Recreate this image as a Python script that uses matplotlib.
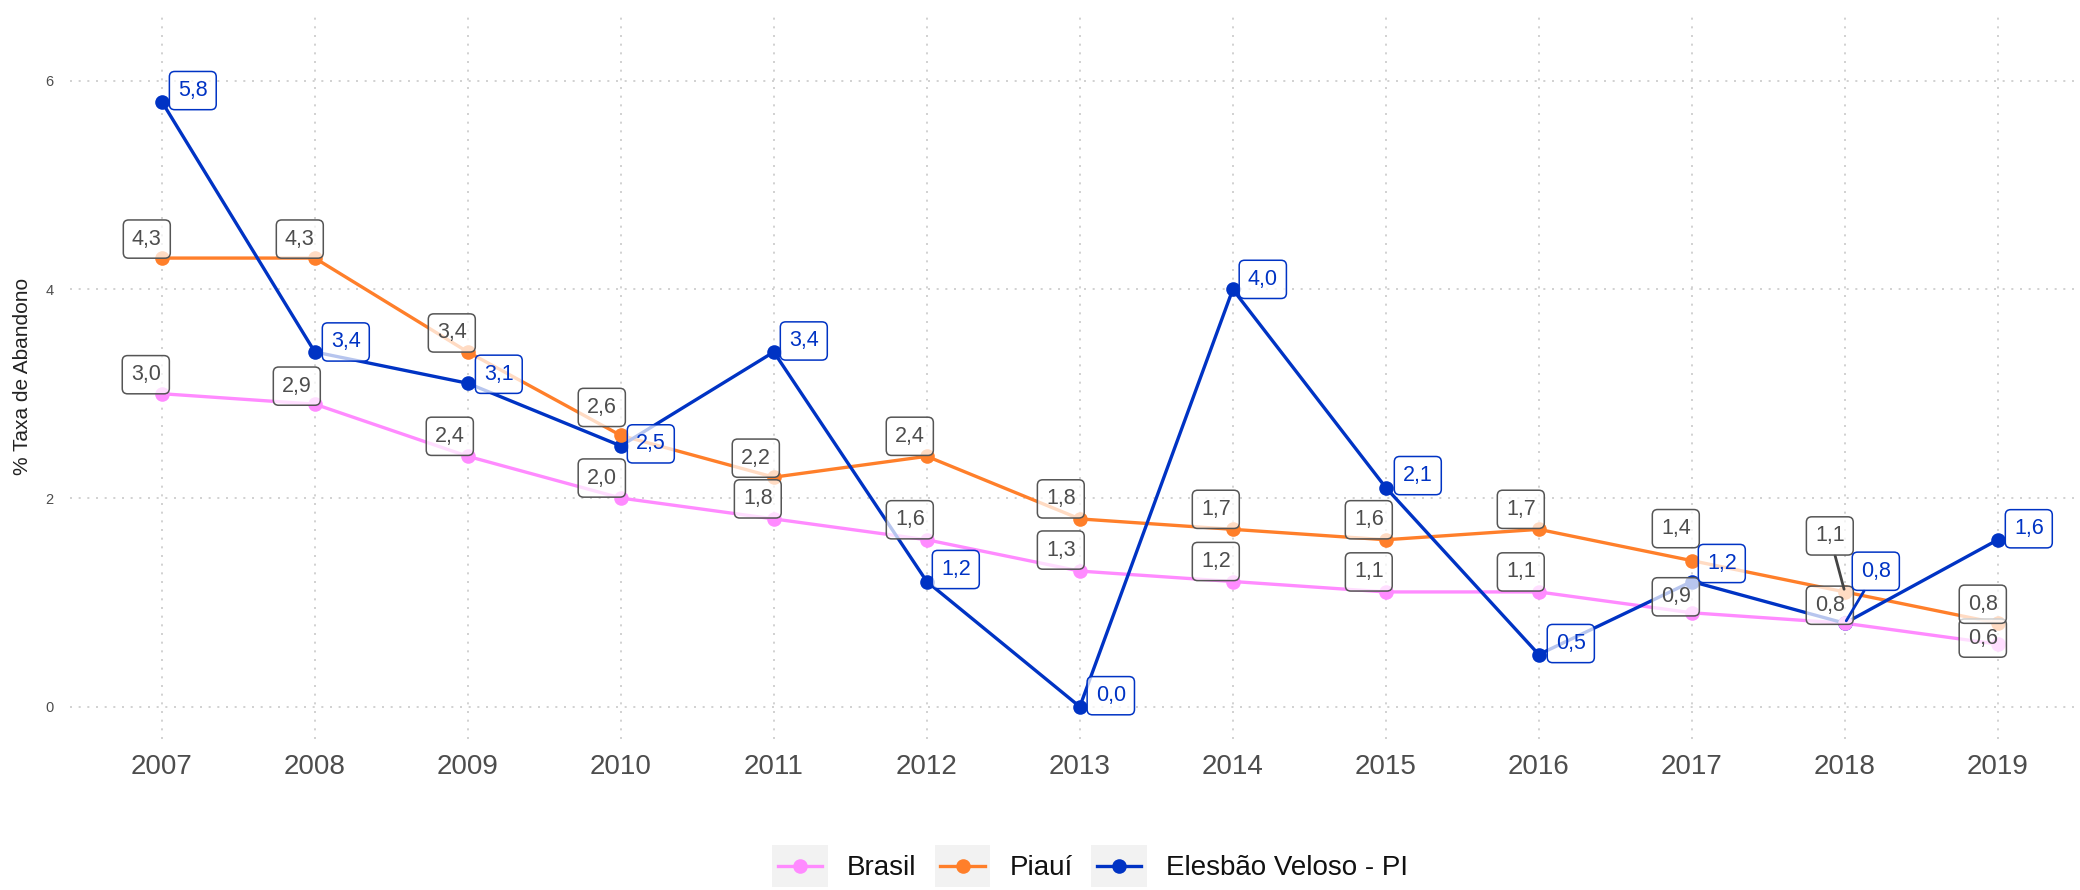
import matplotlib
matplotlib.use("Agg")
import matplotlib.pyplot as plt
from matplotlib.legend_handler import HandlerBase
from matplotlib.lines import Line2D
from matplotlib.patches import Rectangle

plt.rcParams["font.family"] = ["Liberation Sans", "DejaVu Sans"]

# ---- data -------------------------------------------------------------
anos = [2007, 2008, 2009, 2010, 2011, 2012, 2013, 2014, 2015, 2016, 2017, 2018, 2019]
brasil = [3.0, 2.9, 2.4, 2.0, 1.8, 1.6, 1.3, 1.2, 1.1, 1.1, 0.9, 0.8, 0.6]
piaui = [4.3, 4.3, 3.4, 2.6, 2.2, 2.4, 1.8, 1.7, 1.6, 1.7, 1.4, 1.1, 0.8]
elesbao = [5.8, 3.4, 3.1, 2.5, 3.4, 1.2, 0.0, 4.0, 2.1, 0.5, 1.2, 0.8, 1.6]
series_names = ["Brasil", "Piauí", "Elesbão Veloso - PI"]
y_ticks = [0, 2, 4, 6]

# ---- styling ----------------------------------------------------------
colors = ["#FF8BFF", "#FF7F2A", "#0033C4"]
label_text_colors = ["#4D4D4D", "#4D4D4D", "#0033C4"]
label_edge_colors = ["#555555", "#555555", "#0033C4"]
LINE_W = 2.4
MARKER = 10.5

# label offsets (pixels, from the point to the label centre), repel-style
offs_brasil = [(-16, 19), (-18, 18), (-18, 20), (-19, 20), (-16, 20), (-17, 20),
               (-19, 21), (-17, 20), (-17, 20), (-18, 20), (-16, 16), (-15, 18), (-15, 6)]
offs_piaui = [(-15, 19), (-15, 19), (-16, 19), (-19, 28), (-18, 19), (-17, 20),
              (-19, 20), (-17, 20), (-17, 20), (-18, 20), (-16, 32), (-15, 56), (-15, 19)]
offs_elesbao = [(31, 11), (31, 10), (31, 9), (30, 2), (30, 11), (29, 12),
                (31, 11), (30, 10), (32, 12), (32, 11), (30, 18), (31, 52), (31, 11)]
# labels that are far enough from their point to get a leader segment
seg_brasil = [False] * 13
seg_piaui = [False] * 11 + [True, False]
seg_elesbao = [False] * 11 + [True, False]

W, H = 2080, 890
fig = plt.figure(figsize=(W / 100, H / 100), dpi=100)
ax = fig.add_axes([70 / W, 151 / H, 1 - 70 / W, 726 / H])
ax.set_xlim(2006.4, 2006.4 + 2010 / 153)
ax.set_ylim(-0.3096, 6.649)

for s in ax.spines.values():
    s.set_visible(False)
ax.set_xticks(anos)
ax.set_xticklabels([str(a) for a in anos])
ax.set_yticks(y_ticks)
ax.tick_params(axis="x", length=0, pad=11, labelsize=20, labelcolor="#4D4D4D")
ax.tick_params(axis="y", length=0, pad=12, labelsize=10.5, labelcolor="#4D4D4D")
ax.grid(True, color="#C9C9C9", linewidth=1.2, linestyle=(0, (1.2, 4)))
ax.set_axisbelow(True)

all_vals = [brasil, piaui, elesbao]
all_offs = [offs_brasil, offs_piaui, offs_elesbao]
all_segs = [seg_brasil, seg_piaui, seg_elesbao]

# lines
for vals, c in zip(all_vals, colors):
    ax.plot(anos, vals, color=c, linewidth=LINE_W, zorder=2, solid_capstyle="round")
# points
for vals, c in zip(all_vals[::-1], colors[::-1]):
    ax.plot(anos, vals, linestyle="none", marker="o", markersize=MARKER,
            color=c, markeredgewidth=0, zorder=3)

# value labels
for k, (vals, offs, segs) in enumerate(zip(all_vals, all_offs, all_segs)):
    for x, v, (dx, dy), seg in zip(anos, vals, offs, segs):
        txt = f"{v:.1f}".replace(".", ",")
        kw = {}
        if seg:
            kw["arrowprops"] = dict(arrowstyle="-", color="#444444" if k < 2 else colors[k],
                                    lw=2.0, shrinkA=0, shrinkB=2)
        ax.annotate(txt, xy=(x, v), xytext=(dx, dy), textcoords="offset pixels",
                    ha="center", va="center", fontsize=15.5,
                    color=label_text_colors[k], zorder=5 + k,
                    bbox=dict(boxstyle="round,pad=0.4,rounding_size=0.25",
                              fc=(1, 1, 1, 0.72), ec=label_edge_colors[k], lw=1.1),
                    **kw)

fig.text(23 / W, 1 - 376 / H, "% Taxa de Abandono", rotation=90,
         ha="center", va="center", fontsize=15, color="#222222")


# legend keys: light grey square with a short line and a centred point
class KeyHandler(HandlerBase):
    def create_artists(self, legend, orig_handle, xdescent, ydescent,
                       width, height, fontsize, trans):
        c = orig_handle.get_color()
        x0 = -xdescent
        yc = -ydescent + height / 2
        bg = Rectangle((x0, -ydescent), width, height,
                       facecolor="#F2F2F2", edgecolor="none", transform=trans)
        ln = Line2D([x0 + 0.1 * width, x0 + 0.9 * width], [yc, yc], color=c,
                    linewidth=LINE_W, transform=trans)
        pt = Line2D([x0 + 0.5 * width], [yc], linestyle="none", marker="o",
                    markersize=MARKER, markeredgewidth=0, color=c, transform=trans)
        return [bg, ln, pt]


handles = [Line2D([], [], color=c) for c in colors]
leg = fig.legend(handles, series_names, loc="center",
                 bbox_to_anchor=(1090 / W, 1 - 866 / H), ncol=3, frameon=False,
                 fontsize=20, handlelength=2.0, handleheight=2.0,
                 handletextpad=0.68, columnspacing=0.68, borderpad=0,
                 handler_map={Line2D: KeyHandler()})
for t in leg.get_texts():
    t.set_color("#111111")

fig.savefig("out.png", dpi=100)
